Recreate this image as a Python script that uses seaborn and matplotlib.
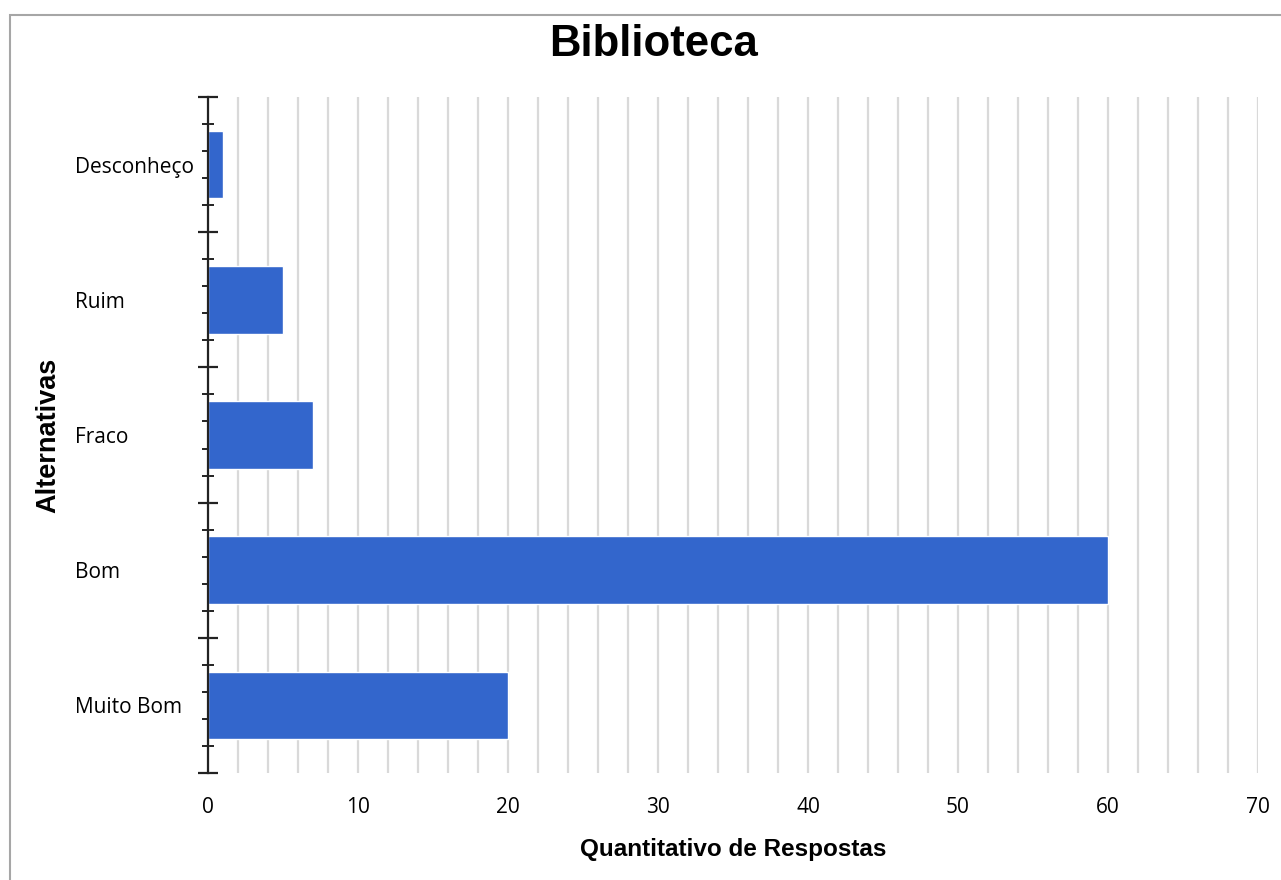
import matplotlib
matplotlib.use('Agg')
import matplotlib.pyplot as plt
import seaborn as sns
import pandas as pd
import numpy as np
from matplotlib.ticker import MultipleLocator, FixedLocator
from matplotlib.patches import Rectangle

# Data
alternativas = ['Desconheço', 'Ruim', 'Fraco', 'Bom', 'Muito Bom']
respostas = [1, 5, 7, 60, 20]

df = pd.DataFrame({'Alternativas': alternativas, 'Respostas': respostas})

sns.set_theme(style='white')
plt.rcParams['font.family'] = ['Liberation Sans', 'DejaVu Sans']
plt.rcParams['text.color'] = 'black'
plt.rcParams['axes.labelcolor'] = 'black'
plt.rcParams['xtick.color'] = 'black'
plt.rcParams['ytick.color'] = 'black'

fig = plt.figure(figsize=(12.81, 8.80), dpi=100)
ax = fig.add_axes([208 / 1281, 1 - 773 / 880, 1050 / 1281, 676 / 880])

sns.barplot(data=df, x='Respostas', y='Alternativas', orient='h',
            color='#3366CC', saturation=1, width=0.5, ax=ax)

n = len(alternativas)
ax.set_xlim(0, 70)
ax.set_ylim(n - 0.5, -0.5)

# vertical grid every 2 units
ax.xaxis.set_major_locator(MultipleLocator(10))
ax.xaxis.set_minor_locator(MultipleLocator(2))
ax.grid(axis='x', which='both', color='#D9D9D9', linewidth=1.6)
ax.set_axisbelow(True)
ax.tick_params(axis='x', which='both', length=0, pad=17, labelsize=15)
for lab in ax.get_xticklabels():
    lab.set_fontfamily(['Open Sans', 'DejaVu Sans'])

# category labels, left aligned
ax.tick_params(axis='y', which='major', length=0, pad=96, labelsize=15)
for lab in ax.get_yticklabels():
    lab.set_fontfamily(['Open Sans', 'DejaVu Sans'])
    lab.set_horizontalalignment('left')

for s in ['top', 'right', 'bottom']:
    ax.spines[s].set_visible(False)
ax.spines['left'].set_color('#222222')
ax.spines['left'].set_linewidth(1.6)

# boundary and sub ticks on the category axis
sec = ax.secondary_yaxis('left')
sec.spines['left'].set_visible(False)
bounds = np.arange(-0.5, n, 1.0)
subs = [b + k * 0.2 for b in bounds[:-1] for k in range(1, 5)]
sec.yaxis.set_major_locator(FixedLocator(bounds))
sec.yaxis.set_minor_locator(FixedLocator(subs))
sec.tick_params(axis='y', which='major', direction='inout', length=14, width=1.6,
                color='#222222', labelleft=False)
sec.tick_params(axis='y', which='minor', direction='inout', length=8, width=1.4,
                color='#222222')

ax.set_xlabel('Quantitativo de Respostas', fontsize=17.5, fontweight='bold', labelpad=15)
ax.set_ylabel('Alternativas', fontsize=19.5, fontweight='bold')
ax.yaxis.set_label_coords((61 - 208) / 1050, 0.5)

fig.suptitle('Biblioteca', x=653 / 1281, y=1 - 45 / 880, va='center',
             fontsize=31.5, fontweight='bold', color='black')

# outer frame
fig.patches.append(Rectangle((10 / 1281, -0.1), 1.2, 1 - 15 / 880 + 0.1,
                             transform=fig.transFigure, fill=False,
                             edgecolor='#A6A6A6', linewidth=1.5))

fig.savefig('out.png', dpi=100)
